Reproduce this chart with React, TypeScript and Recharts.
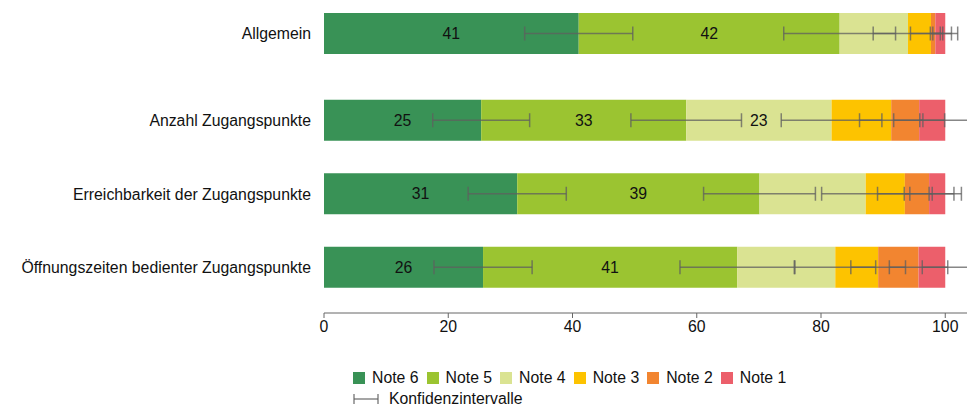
import { Bar, BarChart, ErrorBar, LabelList, XAxis, YAxis } from 'recharts'

const categories = [
  'Allgemein',
  'Anzahl Zugangspunkte',
  'Erreichbarkeit der Zugangspunkte',
  'Öffnungszeiten bedienter Zugangspunkte',
]

// shares in percent, per grade
const note6 = [41.0, 25.3, 31.1, 25.6]
const note5 = [42.0, 33.0, 39.0, 40.9]
const note4 = [11.0, 23.4, 17.1, 15.8]
const note3 = [3.7, 9.6, 6.3, 6.9]
const note2 = [0.7, 4.5, 3.9, 6.5]
const note1 = [1.6, 4.2, 2.6, 4.3]

// half width of the confidence interval, drawn at the cumulative end of each segment
const ci6 = [8.7, 7.8, 7.9, 7.9]
const ci5 = [9.0, 8.9, 9.0, 9.2]
const ci4 = [5.6, 8.1, 7.1, 6.5]
const ci3 = [3.3, 5.1, 4.4, 4.4]
const ci2 = [0.8, 4.1, 4.0, 4.7]
const ci1 = [2.0, 4.1, 2.6, 3.7]

const noteKeys = ['note6', 'note5', 'note4', 'note3', 'note2', 'note1']
const noteNames = ['Note 6', 'Note 5', 'Note 4', 'Note 3', 'Note 2', 'Note 1']
const noteColors = ['#399256', '#9bc431', '#dae392', '#fdc300', '#f28530', '#ec5f6b']
const xTicks = [0, 20, 40, 60, 80, 100]

const values = [note6, note5, note4, note3, note2, note1]
const cis = [ci6, ci5, ci4, ci3, ci2, ci1]

const rows = categories.map((name, i) => {
  const row: Record<string, string | number> = { name }
  noteKeys.forEach((key, k) => {
    row[key] = values[k][i]
    row[`${key}_ci`] = cis[k][i]
  })
  return row
})

const W = 959
const X_MAX = 103.5
const FS = 15.8
const FONT = '"Liberation Sans", Arial, Helvetica, sans-serif'
const CI_STROKE = 'rgba(95,95,95,0.75)'

function SegmentLabel(props: any) {
  const { x, y, width, height, value } = props
  if (value == null || Number(value) < 20) return null
  return (
    <text
      x={Number(x) + Number(width) / 2}
      y={Number(y) + Number(height) / 2}
      dy="0.35em"
      textAnchor="middle"
      fill="#111"
      fontSize={FS}
    >
      {Math.round(Number(value))}
    </text>
  )
}

interface PanelProps {
  data: Record<string, string | number>[]
  height: number
  marginTop: number
  withAxis: boolean
  overlay: boolean
}

function Panel({ data, height, marginTop, withAxis, overlay }: PanelProps) {
  return (
    <BarChart
      layout="vertical"
      width={W}
      height={height}
      data={data}
      margin={{ top: marginTop, right: 0, bottom: 0, left: 0 }}
      barSize={41}
    >
      <XAxis
        type="number"
        domain={[0, X_MAX]}
        ticks={xTicks}
        interval={0}
        allowDataOverflow
        hide={!withAxis}
        height={30}
        tick={overlay ? false : { fill: '#111', fontSize: FS }}
        tickLine={overlay ? false : { stroke: '#666' }}
        axisLine={overlay ? false : { stroke: '#666' }}
        tickSize={5}
        tickMargin={3}
      />
      <YAxis
        type="category"
        dataKey="name"
        width={316}
        padding={withAxis ? { top: 0, bottom: 8.75 } : { top: 0, bottom: 0 }}
        tick={overlay ? false : { fill: '#111', fontSize: FS }}
        tickLine={false}
        axisLine={false}
        tickSize={0}
        tickMargin={13}
      />
      {noteKeys.map((key, i) => (
        <Bar
          key={key}
          dataKey={key}
          name={noteNames[i]}
          stackId="a"
          fill={overlay ? 'transparent' : noteColors[i]}
          isAnimationActive={false}
        >
          {overlay ? (
            <ErrorBar
              dataKey={`${key}_ci`}
              direction="x"
              width={7}
              stroke={CI_STROKE}
              strokeWidth={1.5}
              isAnimationActive={false}
            />
          ) : (
            <LabelList dataKey={key} content={SegmentLabel} />
          )}
        </Bar>
      ))}
    </BarChart>
  )
}

function Layered(props: Omit<PanelProps, 'overlay'>) {
  return (
    <div style={{ position: 'relative', width: W, height: props.height }}>
      <div style={{ position: 'absolute', left: 0, top: 0 }}>
        <Panel {...props} overlay={false} />
      </div>
      <div style={{ position: 'absolute', left: 0, top: 0 }}>
        <Panel {...props} overlay />
      </div>
    </div>
  )
}

function ChartLegend() {
  return (
    <div style={{ position: 'absolute', left: 345, top: 360, fontSize: FS, color: '#111' }}>
      <div style={{ display: 'flex', alignItems: 'center', height: 19 }}>
        {noteNames.map((name, i) => (
          <div key={name} style={{ display: 'flex', alignItems: 'center', marginRight: 8 }}>
            <span style={{ width: 12, height: 12, background: noteColors[i], marginRight: 7 }} />
            <span>{name}</span>
          </div>
        ))}
      </div>
      <div style={{ display: 'flex', alignItems: 'center', height: 20, marginTop: 2 }}>
        <svg width={26} height={12} style={{ marginRight: 10 }}>
          <line x1={1} y1={6} x2={25} y2={6} stroke={CI_STROKE} strokeWidth={1.5} />
          <line x1={1} y1={1} x2={1} y2={11} stroke={CI_STROKE} strokeWidth={1.5} />
          <line x1={25} y1={1} x2={25} y2={11} stroke={CI_STROKE} strokeWidth={1.5} />
        </svg>
        <span>Konfidenzintervalle</span>
      </div>
    </div>
  )
}

export default function App() {
  return (
    <div style={{ position: 'relative', width: W, height: 398, fontFamily: FONT }}>
      <style>{'html, body { overflow: hidden; } body { margin: 8px 0 0 8px; }'}</style>
      <Layered data={rows.slice(0, 1)} height={51} marginTop={0} withAxis={false} />
      <Layered data={rows.slice(1)} height={284} marginTop={24.75} withAxis />
      <ChartLegend />
    </div>
  )
}
